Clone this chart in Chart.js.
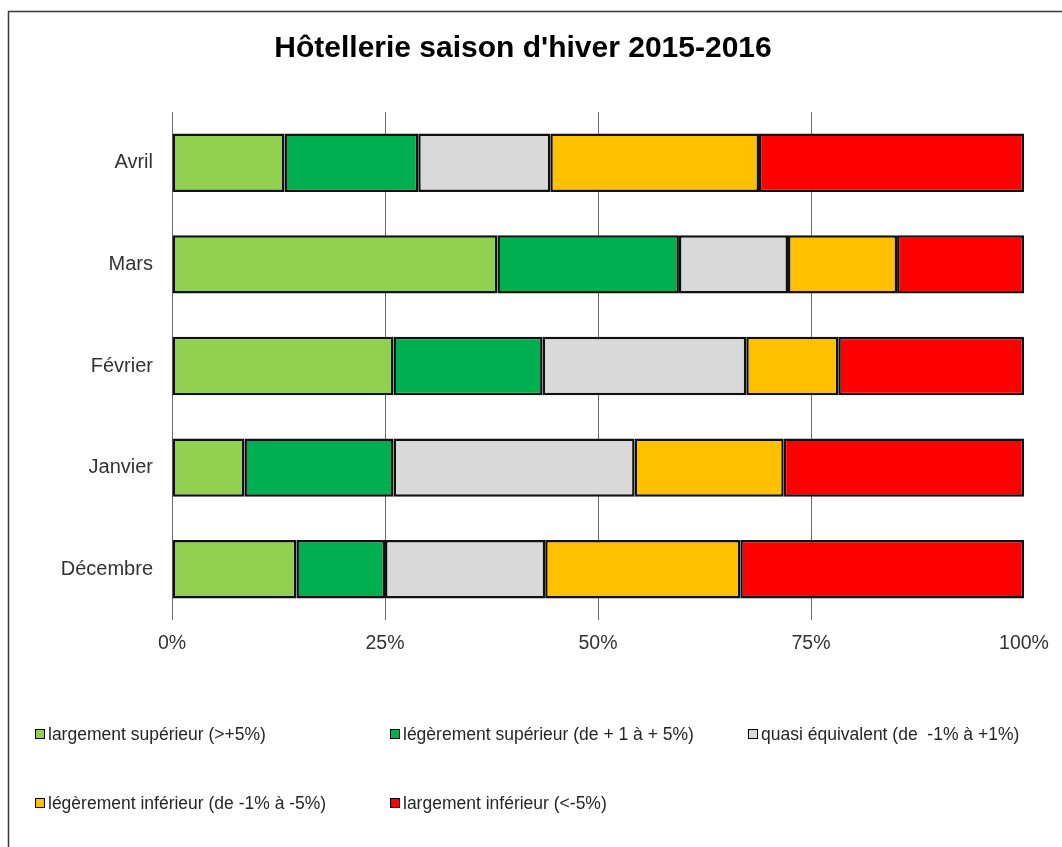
<!DOCTYPE html>
<html lang="fr">
<head>
<meta charset="utf-8">
<title>Hôtellerie saison d'hiver 2015-2016</title>
<script src="https://cdn.jsdelivr.net/npm/chart.js@4.4.1/dist/chart.umd.min.js"></script>
<style>
    html, body { margin: 0; padding: 0; background: #fff; }
    #wrap { position: relative; width: 1062px; height: 847px; overflow: hidden; }
    #chart { position: absolute; left: 0; top: 0; }
    #legend {
        position: absolute; left: 35px; top: 722px;
        display: grid; grid-template-columns: 355px 358px 300px; row-gap: 45px;
        font-family: "Liberation Sans", Arial, sans-serif; font-size: 17.5px; color: #262626;
    }
    .legend-item { display: flex; align-items: center; height: 24px; white-space: pre; }
    .legend-box { width: 8px; height: 8px; border: 1.5px solid #000; margin-right: 3px; }
</style>
</head>
<body>
<div id="wrap">
    <canvas id="chart" width="1062" height="847"></canvas>
    <div id="legend"></div>
</div>
<script>
document.addEventListener('DOMContentLoaded', () => {

    // --- Data ---
    const months = ['Avril', 'Mars', 'Février', 'Janvier', 'Décembre'];
    const seriesLabels = [
        'largement supérieur (>+5%)',
        'légèrement supérieur (de + 1 à + 5%)',
        'quasi équivalent (de  -1% à +1%)',
        'légèrement inférieur (de -1% à -5%)',
        'largement inférieur (<-5%)'
    ];
    const largementSup = [13.2, 38.2, 26.0, 8.5, 14.6];
    const legerementSup = [15.7, 21.3, 17.5, 17.5, 10.4];
    const quasiEquiv = [15.5, 12.8, 23.9, 28.3, 18.8];
    const legerementInf = [24.5, 12.8, 10.8, 17.5, 22.9];
    const largementInf = [31.1, 14.9, 21.8, 28.2, 33.3];
    const xTicks = [0, 25, 50, 75, 100];

    // --- Styles ---
    const colors = ['#92D050', '#00B050', '#D9D9D9', '#FFC000', '#FF0000'];
    const font = '"Liberation Sans", Arial, sans-serif';
    const seriesValues = [largementSup, legerementSup, quasiEquiv, legerementInf, largementInf];

    /** Outer frame like the spreadsheet chart border **/
    const framePlugin = {
        id: 'frame',
        afterDraw(chart) {
            const ctx = chart.ctx;
            ctx.save();
            ctx.strokeStyle = '#3a3a3a';
            ctx.lineWidth = 1.5;
            ctx.strokeRect(8.5, 11.5, 1100, 900);
            ctx.restore();
        }
    };

    const datasets = seriesValues.map((values, i) => ({
        label: seriesLabels[i],
        data: values,
        backgroundColor: colors[i],
        borderColor: '#111',
        borderWidth: 2.5,
        borderSkipped: false,
        categoryPercentage: 1,
        barPercentage: 0.575
    }));

    const chart = new Chart(document.getElementById('chart').getContext('2d'), {
        type: 'bar',
        data: { labels: months, datasets },
        options: {
            indexAxis: 'y',
            responsive: false,
            animation: false,
            layout: { padding: { left: 22, right: 38, top: 0, bottom: 177 } },
            scales: {
                x: {
                    stacked: true,
                    min: 0,
                    max: 100,
                    afterBuildTicks: scale => { scale.ticks = xTicks.map(v => ({ value: v })); },
                    afterFit: scale => { scale.height = 50; },
                    border: { display: false },
                    grid: {
                        color: ctx => (ctx.tick && ctx.tick.value === 100 ? 'rgba(0,0,0,0)' : '#6b6b6b'),
                        lineWidth: 1,
                        drawTicks: false
                    },
                    ticks: {
                        padding: 12,
                        color: '#333',
                        font: { family: font, size: 19.5 },
                        callback: v => v + '%'
                    }
                },
                y: {
                    stacked: true,
                    afterFit: scale => { scale.width = 150; },
                    border: { display: false },
                    grid: { display: false },
                    ticks: {
                        padding: 11,
                        color: '#333',
                        font: { family: font, size: 20 }
                    }
                }
            },
            plugins: {
                legend: { display: false },
                tooltip: { enabled: false },
                title: {
                    display: true,
                    text: "Hôtellerie saison d'hiver 2015-2016",
                    color: '#000',
                    font: { family: font, size: 30, weight: 'bold' },
                    padding: { top: 31, bottom: 45 }
                }
            }
        },
        plugins: [framePlugin]
    });

    // --- HTML Legend built from the chart datasets ---
    const legendEl = document.getElementById('legend');
    chart.data.datasets.forEach(ds => {
        const item = document.createElement('div');
        item.className = 'legend-item';
        const box = document.createElement('span');
        box.className = 'legend-box';
        box.style.background = ds.backgroundColor;
        const text = document.createElement('span');
        text.textContent = ds.label;
        item.appendChild(box);
        item.appendChild(text);
        legendEl.appendChild(item);
    });

});
</script>
</body>
</html>
